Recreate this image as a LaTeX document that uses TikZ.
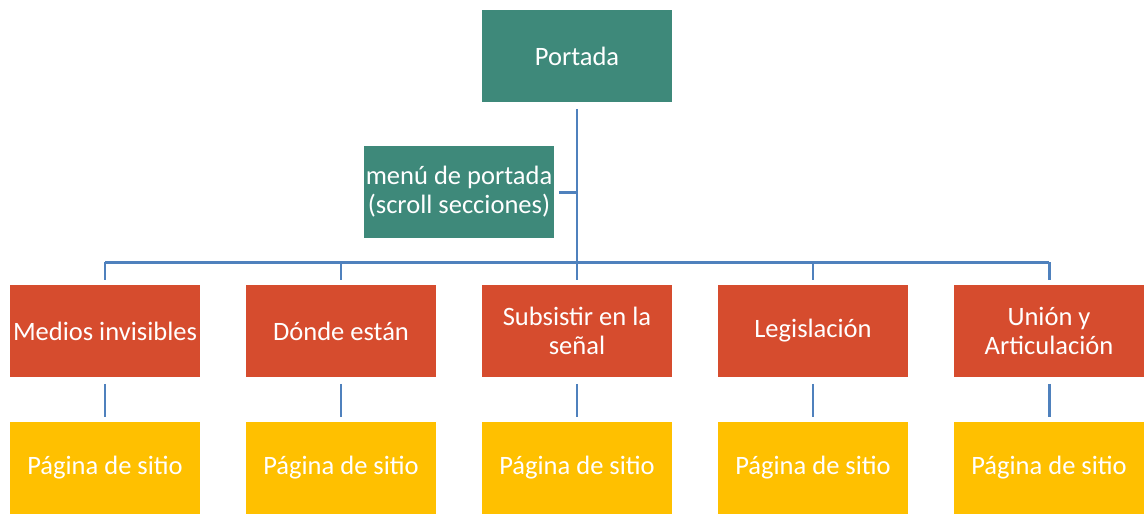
\documentclass[tikz,border=0pt]{standalone}
\usepackage{fontspec}
\setmainfont{Carlito}
\definecolor{tealbox}{RGB}{62,137,122}
\definecolor{redbox}{RGB}{214,76,46}
\definecolor{yelbox}{RGB}{255,192,0}
\definecolor{linkblue}{RGB}{79,129,189}
\begin{document}
\begin{tikzpicture}[x=0.02cm,y=-0.02cm,
  box/.style={draw=white,line width=0.6pt,minimum width=3.84cm,minimum height=1.88cm,inner sep=1pt,
    text=white,align=center,font=\fontsize{15.1}{16.6}\selectfont},
  topbox/.style={box,fill=tealbox},
  redb/.style={box,fill=redbox},
  yelb/.style={box,fill=yelbox},
  link/.style={draw=linkblue,line width=1.7pt}]
\useasboundingbox (0,0) rectangle (1147,515);
\node[topbox] (top) at (577,56) {Portada};
\node[topbox] (menu) at (459,192) {menú de portada\\(scroll secciones)};
\node[redb] (r1) at (105,331) {Medios invisibles};
\node[redb] (r2) at (341,331) {Dónde están};
\node[redb] (r3) at (577,331) {Subsistir en la\\señal};
\node[redb] (r4) at (813,331) {Legislación};
\node[redb] (r5) at (1049,331) {Unión y\\Articulación};
\node[yelb] (y1) at (105,468) {Página de sitio};
\node[yelb] (y2) at (341,468) {Página de sitio};
\node[yelb] (y3) at (577,468) {Página de sitio};
\node[yelb] (y4) at (813,468) {Página de sitio};
\node[yelb] (y5) at (1049,468) {Página de sitio};
\coordinate (bar) at (577,262);
\coordinate (mj) at (577,192);
\draw[link] ([yshift=-3pt]top.south) -- (bar);
\draw[link] ([xshift=2pt]menu.east) -- (mj);
\foreach \i in {1,...,5}{
  \draw[link] (r\i.north |- bar) -- ([yshift=2pt]r\i.north);
  \draw[link] ([yshift=-3pt]r\i.south) -- ([yshift=2pt]y\i.north);
}
\draw[link] (r1.north |- bar) -- (r5.north |- bar);
\end{tikzpicture}
\end{document}
